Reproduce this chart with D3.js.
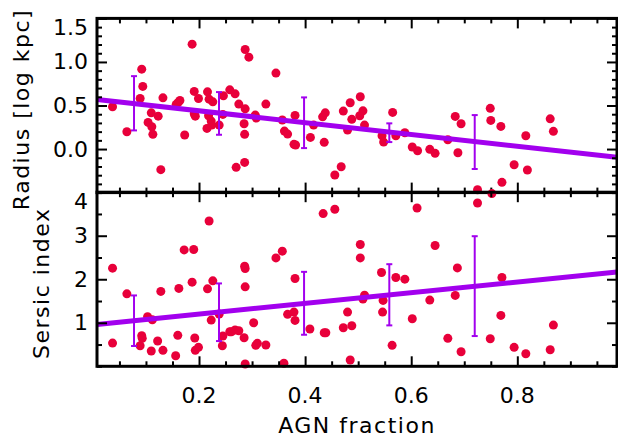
<!DOCTYPE html>
<html>
<head>
<meta charset="utf-8">
<script src="https://cdn.jsdelivr.net/npm/d3@7"></script>
<style>
  html, body { margin: 0; padding: 0; background: #fff; }
  svg { display: block; }
  text { font-family: "DejaVu Sans", sans-serif; fill: #000; }
</style>
</head>
<body>
<svg id="chart" width="618" height="437"></svg>
<script>
// ---- data ----
const radiusAgn = [0.037,0.064,0.092,0.094,0.089,0.104,0.110,0.111,0.113,0.123,0.132,0.128,0.157,0.161,0.164,0.173,0.187,0.191,0.199,0.191,0.193,0.216,0.219,0.226,0.218,0.223,0.224,0.215,0.238,0.246,0.245,0.258,0.287,0.294,0.268,0.275,0.287,0.285,0.286,0.270,0.286,0.306,0.308,0.326,0.345,0.357,0.361,0.367,0.379,0.382,0.381,0.410,0.416,0.436,0.433,0.438,0.472,0.485,0.488,0.480,0.504,0.503,0.456,0.468,0.509,0.512,0.565,0.545,0.548,0.571,0.588,0.602,0.612,0.635,0.645,0.669,0.683,0.694,0.688,0.725,0.749,0.750,0.769,0.816,0.794,0.819,0.771,0.862,0.868];
const radiusVal = [0.485,0.198,0.917,0.719,0.581,0.306,0.416,0.256,0.169,0.378,0.588,-0.237,0.513,0.536,0.558,0.161,1.204,0.662,0.581,0.405,0.378,0.657,0.573,0.542,0.382,0.321,0.275,0.237,0.275,0.611,0.398,0.680,1.143,1.055,0.634,0.516,0.462,0.290,0.169,-0.210,-0.153,0.390,0.356,0.516,0.872,0.333,0.206,0.172,0.054,0.046,0.386,0.134,0.275,0.077,0.370,0.416,0.436,0.531,0.341,0.218,0.600,0.382,-0.298,-0.203,0.439,0.275,0.421,0.153,0.080,0.153,0.187,0.023,-0.019,-0.003,-0.049,0.107,0.375,0.290,-0.042,-0.467,0.467,0.329,0.260,0.153,-0.180,-0.241,-0.382,0.347,0.203];

const sersicAgn = [0.037,0.037,0.064,0.092,0.093,0.089,0.103,0.112,0.110,0.122,0.128,0.132,0.156,0.160,0.162,0.172,0.190,0.187,0.192,0.193,0.199,0.219,0.216,0.226,0.223,0.238,0.245,0.244,0.258,0.261,0.268,0.275,0.285,0.286,0.287,0.287,0.303,0.307,0.310,0.326,0.345,0.357,0.381,0.367,0.379,0.381,0.409,0.436,0.439,0.434,0.456,0.287,0.360,0.480,0.472,0.488,0.485,0.504,0.504,0.512,0.509,0.544,0.547,0.546,0.571,0.588,0.564,0.602,0.611,0.645,0.635,0.687,0.683,0.669,0.694,0.725,0.752,0.749,0.771,0.769,0.794,0.816,0.862,0.868];
const sersicVal = [2.255,0.534,1.665,0.702,0.642,0.472,1.138,1.069,0.351,0.580,1.720,0.367,0.243,0.711,1.789,2.674,2.683,1.933,0.649,0.367,0.436,3.339,1.780,1.963,1.062,1.200,0.695,0.472,0.794,0.794,0.833,0.817,0.656,2.300,2.248,1.826,1.000,0.482,0.528,0.489,2.491,2.645,2.018,1.193,1.245,1.055,0.856,0.771,0.771,3.509,3.608,0.053,0.069,1.245,0.885,0.931,0.144,2.798,2.491,1.635,1.544,2.156,1.514,1.245,2.041,2.002,0.482,1.092,3.638,2.775,1.521,2.261,1.628,0.642,0.335,3.752,3.968,0.633,2.041,1.170,0.436,0.289,0.381,0.947];

// binned medians with error bars
const binAgn = [0.0775,0.2377,0.398,0.5587,0.7197];
const radiusBinLo = [0.214,0.164,0.011,0.080,-0.229];
const radiusBinHi = [0.837,0.654,0.593,0.295,0.390];
const sersicBinLo = [0.466,0.580,0.725,0.940,0.695];
const sersicBinHi = [1.628,1.904,2.170,2.346,2.989];

// linear fits: value = intercept + slope * agn
const radiusFit = [0.575, -0.678];
const sersicFit = [0.953, 1.231];

const xTicksMajor = [0.2,0.4,0.6,0.8];
const radiusTicks = [0.0,0.5,1.0,1.5];
const sersicTicks = [1,2,3,4];

// ---- drawing ----
const RED = "#e8003a", PURPLE = "#a200ee";
const svg = d3.select("#chart");
const L = 97, R = 617;
const x = d3.scaleLinear().domain([0.0077, 0.9879]).range([L, R]);
const panels = [
  {y: d3.scaleLinear().domain([-0.5,1.5]).range([192.6,18.4]), xs: radiusAgn, ys: radiusVal,
   lo: radiusBinLo, hi: radiusBinHi, fit: radiusFit, ticks: radiusTicks, minorStep: 0.1,
   fmt: d3.format(".1f"), title: "Radius [log kpc]", titleX: 21, bottomLabels: false},
  {y: d3.scaleLinear().domain([0,4]).range([366.3,192.2]), xs: sersicAgn, ys: sersicVal,
   lo: sersicBinLo, hi: sersicBinHi, fit: sersicFit, ticks: sersicTicks, minorStep: 0.5,
   fmt: d3.format("d"), title: "Sersic index", titleX: 41, bottomLabels: true}
];

const xMinor = d3.range(0.05, 0.99, 0.05).filter(v => Math.abs(v/0.2 - Math.round(v/0.2)) > 1e-6);

panels.forEach(p => {
  const y = p.y;
  const [d0, d1] = y.domain();
  const top = y(d1), bot = y(d0);
  const g = svg.append("g");

  // points
  g.append("g").selectAll("circle").data(p.xs.map((v,i)=>[v,p.ys[i]])).join("circle")
    .attr("cx", d => x(d[0])).attr("cy", d => y(d[1])).attr("r", 4.5).attr("fill", RED);

  // fit line
  const xd = x.domain();
  g.append("line")
    .attr("x1", x(xd[0])).attr("y1", y(p.fit[0] + p.fit[1]*xd[0]))
    .attr("x2", x(xd[1])).attr("y2", y(p.fit[0] + p.fit[1]*xd[1]))
    .attr("stroke", PURPLE).attr("stroke-width", 5);

  // error bars
  const eb = g.append("g").attr("stroke", PURPLE).attr("stroke-width", 2);
  binAgn.forEach((v,i) => {
    const cx = x(v);
    eb.append("line").attr("x1", cx).attr("x2", cx).attr("y1", y(p.lo[i])).attr("y2", y(p.hi[i]));
    eb.append("line").attr("x1", cx-3).attr("x2", cx+3).attr("y1", y(p.lo[i])).attr("y2", y(p.lo[i]));
    eb.append("line").attr("x1", cx-3).attr("x2", cx+3).attr("y1", y(p.hi[i])).attr("y2", y(p.hi[i]));
  });

  // ticks (inward)
  const minorY = d3.range(d0, d1 + 1e-9, p.minorStep).filter(v => !p.ticks.some(t => Math.abs(t-v) < 1e-6));
  const majorY = d3.range(d0, d1 + 1e-9, p.minorStep).filter(v => !minorY.some(t => Math.abs(t-v) < 1e-6));
  const ax = (gen, vals, size, tx, ty) => {
    const a = svg.append("g").attr("transform", `translate(${tx},${ty})`)
      .call(gen.tickValues(vals).tickSize(size).tickSizeOuter(0).tickFormat(""));
    a.select(".domain").remove();
    a.selectAll("line").attr("stroke", "#000").attr("stroke-width", 2);
  };
  ax(d3.axisRight(y), majorY, 10, L, 0);
  ax(d3.axisRight(y), minorY, 5, L, 0);
  ax(d3.axisLeft(y), majorY, 10, R, 0);
  ax(d3.axisLeft(y), minorY, 5, R, 0);
  ax(d3.axisBottom(x), xTicksMajor, 10, 0, top);
  ax(d3.axisBottom(x), xMinor, 5, 0, top);
  ax(d3.axisTop(x), xTicksMajor, 10, 0, bot);
  ax(d3.axisTop(x), xMinor, 5, 0, bot);

  // frame
  svg.append("rect").attr("x", L).attr("y", top).attr("width", R-L).attr("height", bot-top)
    .attr("fill", "none").attr("stroke", "#000").attr("stroke-width", 3);

  // y tick labels
  p.ticks.forEach(t => {
    let ty = y(t);
    const atTop = Math.abs(ty - top) < 1;
    svg.append("text").attr("x", 88).attr("y", atTop ? top + 1 : ty)
      .attr("text-anchor", "end").attr("dominant-baseline", atTop ? "hanging" : "central")
      .attr("font-size", 22).text(p.fmt(t));
  });

  // y title
  svg.append("text").attr("transform", `translate(${p.titleX},${(top+bot)/2 + 4}) rotate(-90)`)
    .attr("text-anchor", "middle").attr("dominant-baseline", "central")
    .attr("font-size", 22).attr("letter-spacing", 1.5).text(p.title);

  if (p.bottomLabels) {
    xTicksMajor.forEach(t => {
      svg.append("text").attr("x", x(t)).attr("y", 403).attr("text-anchor", "middle")
        .attr("font-size", 22).text(d3.format(".1f")(t));
    });
    svg.append("text").attr("x", (L+R)/2).attr("y", 433).attr("text-anchor", "middle")
      .attr("font-size", 22).attr("letter-spacing", 1.5).text("AGN fraction");
  }
});
</script>
</body>
</html>
